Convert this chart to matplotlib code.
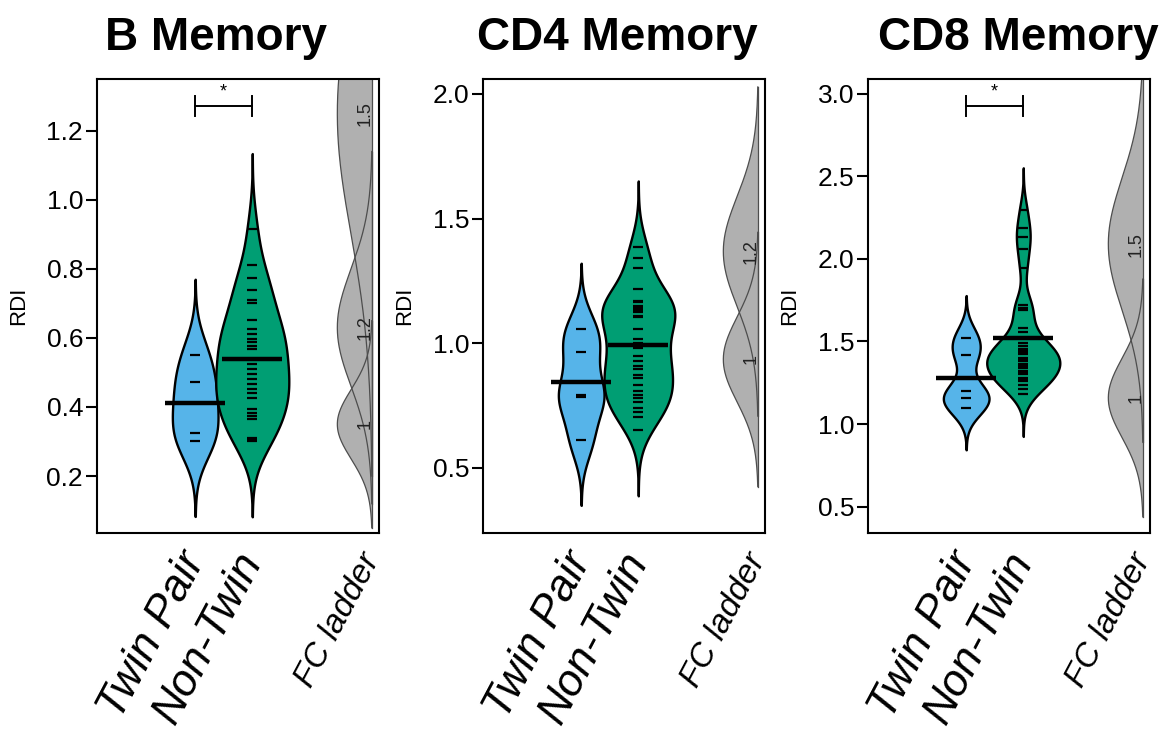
import numpy as np
import matplotlib
matplotlib.use("Agg")
import matplotlib.pyplot as plt
import matplotlib.transforms as mtransforms

plt.rcParams['font.family'] = ['Liberation Sans', 'DejaVu Sans']

titles = ["B Memory", "CD4 Memory", "CD8 Memory"]
group_labels = ["Twin Pair", "Non-Twin", "FC ladder"]

# RDI values
b_twin = [0.551, 0.473, 0.411, 0.326, 0.302]
b_nontwin = [0.915, 0.812, 0.773, 0.739, 0.710, 0.700, 0.651, 0.627, 0.612, 0.597,
             0.587, 0.578, 0.568, 0.524, 0.510, 0.495, 0.480, 0.466, 0.451, 0.441,
             0.427, 0.393, 0.383, 0.374, 0.364, 0.310, 0.305, 0.301]
cd4_twin = [1.057, 0.965, 0.792, 0.786, 0.614]
cd4_nontwin = [1.387, 1.344, 1.302, 1.219, 1.170, 1.165, 1.151, 1.145, 1.138, 1.130,
               1.124, 1.110, 1.104, 1.057, 1.016, 1.000, 0.983, 0.949, 0.928, 0.908,
               0.895, 0.874, 0.861, 0.834, 0.807, 0.794, 0.780, 0.766, 0.740, 0.726,
               0.706, 0.652]
cd8_twin = [1.523, 1.416, 1.200, 1.156, 1.099]
cd8_nontwin = [2.297, 2.186, 2.135, 2.062, 1.947, 1.719, 1.705, 1.691, 1.584,
               1.558, 1.493, 1.473, 1.456, 1.450, 1.441, 1.430, 1.422, 1.402, 1.390,
               1.382, 1.362, 1.350, 1.341, 1.321, 1.310, 1.301, 1.281,
               1.270, 1.261, 1.234, 1.214, 1.180]

twin_values = [b_twin, cd4_twin, cd8_twin]
nontwin_values = [b_nontwin, cd4_nontwin, cd8_nontwin]
significant = [True, False, True]

# fold-change ladder rungs (label, centre, spread)
ladder_labels = [["1", "1.2", "1.5"], ["1", "1.2"], ["1", "1.5"]]
ladder_centers = [[0.35, 0.63, 1.25], [0.935, 1.368], [1.158, 2.09]]
ladder_sds = [[0.10, 0.17, 0.35], [0.17, 0.22], [0.24, 0.40]]

y_limits = [(0.035, 1.35), (0.239, 2.06), (0.34, 3.09)]
y_ticks = [[0.2, 0.4, 0.6, 0.8, 1.0, 1.2], [0.5, 1.0, 1.5, 2.0],
           [0.5, 1.0, 1.5, 2.0, 2.5, 3.0]]
bandwidths = [0.073, 0.088, 0.085]

BLUE = "#56B4E9"
GREEN = "#009E73"
LADDER_GREY = "#B0B0B0"
positions = [1, 2]
ladder_x = 4.1


def density(values, bw, n=400):
    v = np.asarray(values)
    grid = np.linspace(v.min() - 3 * bw, v.max() + 3 * bw, n)
    d = np.exp(-0.5 * ((grid[:, None] - v[None, :]) / bw) ** 2).sum(axis=1)
    return grid, d / d.max()


def draw_bean(ax, values, pos, bw, color, half_width):
    grid, d = density(values, bw)
    ax.fill_betweenx(grid, pos - half_width * d, pos + half_width * d,
                     facecolor=color, edgecolor="black", lw=1.7, zorder=2)
    # one short line per observation, kept inside the bean
    for v in values:
        w = min(0.09, half_width * np.interp(v, grid, d))
        ax.plot([pos - w, pos + w], [v, v], color="black", lw=1.6,
                solid_capstyle="butt", zorder=3)
    m = np.mean(values)
    ax.plot([pos - 0.525, pos + 0.525], [m, m], color="black", lw=3.2,
            solid_capstyle="butt", zorder=4)


fig = plt.figure(figsize=(11.63, 7.38), dpi=100)
lefts = [97, 483, 868]
title_x = [216, 617, 1018]

for i in range(3):
    ax = fig.add_axes([lefts[i] / 1163, 1 - 533 / 738, 282 / 1163, 454 / 738])
    ax.set_xlim(-0.72, 4.22)
    ax.set_ylim(*y_limits[i])

    draw_bean(ax, twin_values[i], positions[0], bandwidths[i], BLUE, 0.40)
    draw_bean(ax, nontwin_values[i], positions[1], bandwidths[i], GREEN, 0.64)

    # FC ladder: one-sided grey densities hanging left of the ladder line
    rungs = []
    for c, s in zip(ladder_centers[i], ladder_sds[i]):
        g = np.linspace(c - 3 * s, c + 3 * s, 300)
        d = np.exp(-0.5 * ((g - c) / s) ** 2)
        rungs.append((g, d))
        ax.fill_betweenx(g, ladder_x - 0.61 * d, ladder_x, facecolor=LADDER_GREY,
                         edgecolor="none", zorder=1)
    for g, d in rungs:
        ax.plot(ladder_x - 0.61 * d, g, color="#4D4D4D", lw=0.9, zorder=1.5)
        ax.plot([ladder_x, ladder_x], [g[0], g[-1]], color="#4D4D4D", lw=0.9,
                zorder=1.5)
    for lab, c in zip(ladder_labels[i], ladder_centers[i]):
        ax.text(ladder_x - 0.13, c, lab, rotation=90, ha="center", va="center",
                fontsize=13, color="#222222", zorder=5)

    if significant[i]:
        trans = mtransforms.blended_transform_factory(ax.transData, ax.transAxes)
        ax.plot([1, 2], [0.940, 0.940], color="black", lw=1.4, transform=trans)
        for xx in (1, 2):
            ax.plot([xx, xx], [0.918, 0.962], color="black", lw=1.4,
                    transform=trans)
        ax.text(1.5, 0.952, "*", ha="center", va="bottom", fontsize=13,
                transform=trans)

    ax.set_yticks(y_ticks[i])
    ax.set_yticklabels([f"{t:.1f}" for t in y_ticks[i]])
    ax.tick_params(axis="y", direction="out", length=8, width=1.5,
                   labelsize=19, pad=2)
    ax.set_ylabel("RDI", fontsize=16)
    ax.yaxis.set_label_coords(-68 / 282, 0.5)

    ax.set_xticks([positions[0], positions[1], ladder_x])
    ax.set_xticklabels(group_labels)
    ax.tick_params(axis="x", length=0, pad=16)
    for j, lab in enumerate(ax.get_xticklabels()):
        lab.set_rotation(62)
        lab.set_rotation_mode("anchor")
        lab.set_ha("right")
        lab.set_va("center")
        lab.set_style("italic")
        lab.set_fontsize(32 if j < 2 else 24)

    for sp in ax.spines.values():
        sp.set_linewidth(1.5)

    fig.text(title_x[i] / 1163, 1 - 50 / 738, titles[i], ha="center",
             va="baseline", fontsize=33, fontweight="bold")

fig.savefig("out.png", dpi=100)
